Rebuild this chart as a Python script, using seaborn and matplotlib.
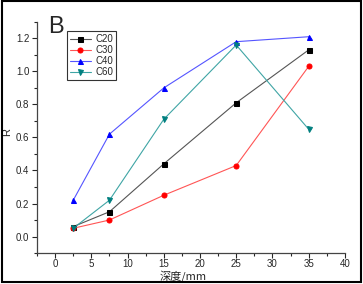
import matplotlib
matplotlib.use("Agg")
import matplotlib.pyplot as plt
import pandas as pd
import seaborn as sns
from matplotlib.patches import Rectangle
from matplotlib.ticker import MultipleLocator

# values
depth = [2.5, 7.5, 15, 25, 35]
c20 = [0.06, 0.15, 0.44, 0.81, 1.13]
c30 = [0.05, 0.10, 0.25, 0.43, 1.03]
c40 = [0.22, 0.62, 0.90, 1.18, 1.21]
c60 = [0.05, 0.22, 0.71, 1.16, 0.65]
series_names = ["C20", "C30", "C40", "C60"]

df = pd.concat(
    [pd.DataFrame({"depth": depth, "R": vals, "grade": name})
     for name, vals in zip(series_names, [c20, c30, c40, c60])],
    ignore_index=True,
)

sns.set_style("ticks")
plt.rcParams["font.family"] = ["Liberation Sans", "Noto Sans CJK SC", "DejaVu Sans"]

line_colors = {"C20": "#555555", "C30": "#ff5555", "C40": "#5555ff", "C60": "#3fa5a5"}
mark_colors = {"C20": "#000000", "C30": "#ff0000", "C40": "#0000ff", "C60": "#007f7f"}
markers = {"C20": "s", "C30": "o", "C40": "^", "C60": "v"}

fig = plt.figure(figsize=(3.63, 2.84), dpi=100)
ax = fig.add_axes([0.102, 0.109, 0.848, 0.814])

for name in series_names:
    sub = df[df["grade"] == name]
    sns.lineplot(data=sub, x="depth", y="R", ax=ax, color=line_colors[name],
                 linewidth=0.8, marker=markers[name], markersize=3.6,
                 markerfacecolor=mark_colors[name], markeredgecolor=mark_colors[name],
                 label=name)

ax.set_xlim(-2.5, 40)
ax.set_ylim(-0.1, 1.3)
ax.xaxis.set_major_locator(MultipleLocator(5))
ax.xaxis.set_minor_locator(MultipleLocator(2.5))
ax.yaxis.set_major_locator(MultipleLocator(0.2))
ax.yaxis.set_minor_locator(MultipleLocator(0.1))
ax.yaxis.set_major_formatter(matplotlib.ticker.FormatStrFormatter("%.1f"))
ax.tick_params(which="major", direction="out", length=3.5, width=0.8, labelsize=7, pad=2)
ax.tick_params(axis="x", which="major", pad=1)
ax.tick_params(which="minor", direction="out", length=2, width=0.8)
for s in ["top", "right"]:
    ax.spines[s].set_visible(False)
for s in ["left", "bottom"]:
    ax.spines[s].set_color("#444444")
    ax.spines[s].set_linewidth(0.9)

ax.set_xlabel("深度/mm", fontsize=8, family=["Noto Sans CJK SC", "DejaVu Sans"])
ax.xaxis.set_label_coords(0.474, -0.072)
ax.set_ylabel("R", fontsize=8)
ax.yaxis.set_label_coords(-0.08, 0.524)

leg = ax.legend(loc="upper left", bbox_to_anchor=(0.097, 0.96), fontsize=7,
                frameon=True, fancybox=False, handlelength=2.2, handletextpad=0.4,
                borderpad=0.3, labelspacing=0.1, borderaxespad=0)
leg.get_frame().set_edgecolor("black")
leg.get_frame().set_linewidth(0.8)

fig.text(0.133, 0.885, "B", fontsize=17)

fig.add_artist(Rectangle((0.006, 0.008), 0.988, 0.988, transform=fig.transFigure,
                         fill=False, edgecolor="black", linewidth=1.5))

fig.savefig("out.png", dpi=100)
